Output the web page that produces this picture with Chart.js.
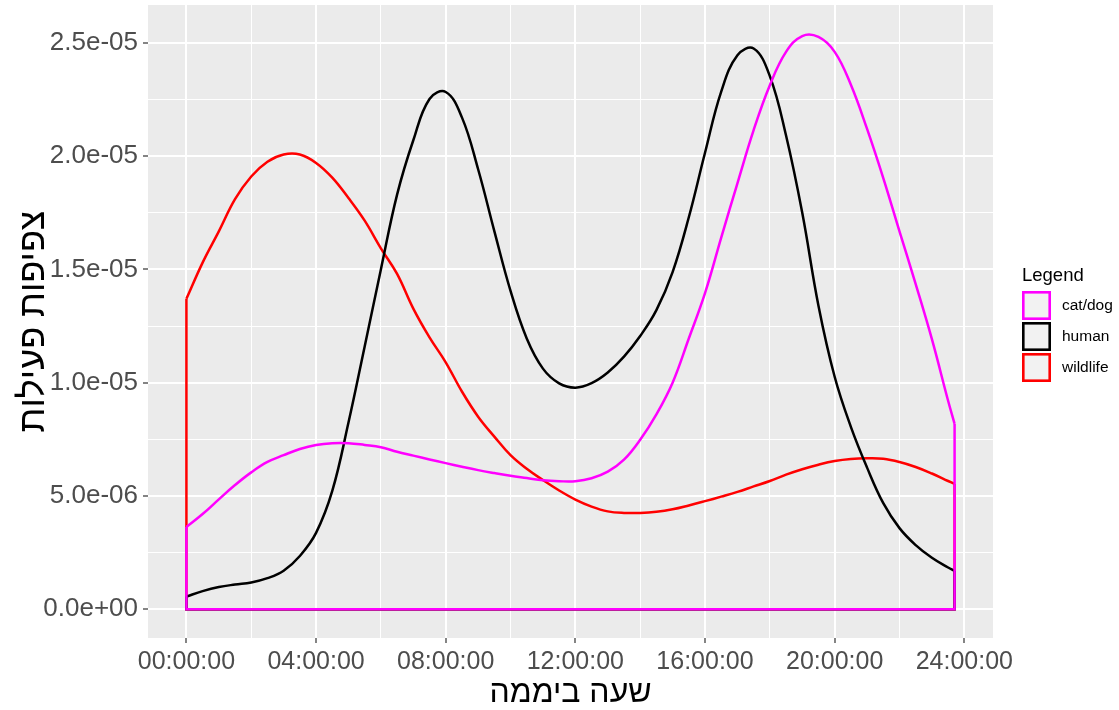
<!DOCTYPE html>
<html>
<head>
<meta charset="utf-8">
<title>צפיפות פעילות</title>
<script src="https://cdn.jsdelivr.net/npm/chart.js@4.4.0/dist/chart.umd.min.js"></script>
<style>
  html, body { margin: 0; padding: 0; background: #fff; }
  #wrap { width: 1119px; height: 710px; }
</style>
</head>
<body>
<div id="wrap"><canvas id="densityChart" width="1119" height="710"></canvas></div>
<script>
// hour of day (x) and density, in units of 1e-6
const hours = [0, 0.5, 1, 1.5, 2, 2.5, 3, 3.5, 4, 4.5, 5, 5.5, 6, 6.5, 7, 7.5, 8, 8.5, 9, 9.5,
  10, 10.5, 11, 11.5, 12, 12.5, 13, 13.5, 14, 14.5, 15, 15.5, 16, 16.5, 17, 17.5, 18, 18.5, 19, 19.5,
  20, 20.5, 21, 21.5, 22, 22.5, 23, 23.5, 23.7];

const catDog = [3.63, 4.2, 4.85, 5.48, 6.04, 6.5, 6.8, 7.07, 7.25, 7.33, 7.33, 7.25, 7.15, 6.95, 6.78, 6.61, 6.45, 6.29, 6.14, 6.01,
  5.89, 5.79, 5.69, 5.65, 5.65, 5.78, 6.07, 6.6, 7.48, 8.6, 10.0, 11.95, 13.95, 16.4, 18.8, 21.15, 23.13, 24.6, 25.3, 25.26,
  24.6, 23.15, 21.2, 19.03, 16.68, 14.35, 11.92, 9.2, 8.18];

const human = [0.56, 0.8, 0.98, 1.09, 1.18, 1.37, 1.7, 2.35, 3.37, 5.22, 8.24, 11.6, 15.0, 18.3, 20.7, 22.52, 22.83, 21.71, 19.42, 16.69,
  14.05, 11.95, 10.62, 9.97, 9.78, 9.98, 10.45, 11.15, 12.06, 13.2, 14.88, 17.3, 20.15, 22.85, 24.45, 24.75, 23.53, 20.91, 17.5, 13.4,
  10.26, 8.05, 6.25, 4.68, 3.58, 2.83, 2.27, 1.84, 1.69];

const wildlife = [13.7, 15.3, 16.68, 18.1, 19.1, 19.75, 20.07, 20.07, 19.7, 19.05, 18.15, 17.15, 15.93, 14.8, 13.27, 12.0, 10.9, 9.61, 8.5, 7.62,
  6.8, 6.2, 5.7, 5.24, 4.84, 4.53, 4.32, 4.25, 4.25, 4.3, 4.41, 4.58, 4.77, 4.97, 5.18, 5.42, 5.66, 5.94, 6.18, 6.38,
  6.54, 6.63, 6.66, 6.64, 6.5, 6.28, 5.99, 5.66, 5.53];

const seriesNames = ['cat/dog', 'human', 'wildlife'];
const seriesValues = [catDog, human, wildlife];
const seriesColors = ['#FF00FF', '#000000', '#FF0000'];

const xGridHours = [0, 2, 4, 6, 8, 10, 12, 14, 16, 18, 20, 22, 24];
const xTickHours = [0, 4, 8, 12, 16, 20, 24];
const xTickLabels = ['00:00:00', '04:00:00', '08:00:00', '12:00:00', '16:00:00', '20:00:00', '24:00:00'];

const yGridValues = [0, 2.5, 5, 7.5, 10, 12.5, 15, 17.5, 20, 22.5, 25];
const yTickValues = [0, 5, 10, 15, 20, 25];
const yTickLabels = ['0.0e+00', '5.0e-06', '1.0e-05', '1.5e-05', '2.0e-05', '2.5e-05'];

const FONT = '"Liberation Sans", Arial, Helvetica, sans-serif';
Chart.defaults.font.family = FONT;

// ggplot-like range: data range plus 5% each side
const xMin = -1.185, xMax = 24.885;
const yMin = -1.27, yMax = 26.67;

const datasets = [];
seriesNames.forEach((name, i) => {
  const vals = seriesValues[i];
  const last = hours.length - 1;
  datasets.push({
    label: name,
    data: hours.map((h, k) => ({ x: h, y: vals[k] })),
    borderColor: seriesColors[i],
    borderWidth: 2.5,
    pointRadius: 0,
    tension: 0.4,
    fill: false
  });
  // closed outline of the density polygon (sides + baseline)
  datasets.push({
    label: name + ' outline',
    data: [{ x: hours[0], y: vals[0] }, { x: hours[0], y: 0 }, { x: hours[last], y: 0 }, { x: hours[last], y: vals[last] }],
    borderColor: seriesColors[i],
    borderWidth: 2.5,
    pointRadius: 0,
    tension: 0,
    fill: false
  });
});

const panelBg = {
  id: 'panelBg',
  beforeDraw(chart) {
    const a = chart.chartArea, c = chart.ctx;
    c.save();
    c.fillStyle = '#EBEBEB';
    c.fillRect(a.left, a.top, a.right - a.left, a.bottom - a.top);
    c.restore();
  }
};

const ggLegend = {
  id: 'ggLegend',
  afterDraw(chart) {
    const c = chart.ctx;
    c.save();
    c.textAlign = 'left';
    c.textBaseline = 'middle';
    c.fillStyle = '#000';
    c.font = '18.5px ' + FONT;
    c.fillText('Legend', 1022, 276);
    seriesNames.forEach((name, i) => {
      const y = 291 + i * 31;
      c.fillStyle = '#F2F2F2';
      c.fillRect(1022, y, 29, 29);
      c.strokeStyle = seriesColors[i];
      c.lineWidth = 2.6;
      c.strokeRect(1023.3, y + 1.3, 26.4, 26.4);
      c.fillStyle = '#000';
      c.font = '15.5px ' + FONT;
      c.fillText(name, 1062, y + 15);
    });
    c.restore();
  }
};

new Chart(document.getElementById('densityChart'), {
  type: 'line',
  data: { datasets },
  options: {
    responsive: false,
    animation: false,
    devicePixelRatio: 1,
    layout: { padding: { top: 5, right: 126, left: 0, bottom: 0 } },
    plugins: { legend: { display: false }, tooltip: { enabled: false } },
    scales: {
      x: {
        type: 'linear',
        min: xMin,
        max: xMax,
        afterBuildTicks: s => { s.ticks = xGridHours.map(v => ({ value: v })); },
        afterFit: s => { s.height = 72; s.paddingLeft = 0; s.paddingRight = 0; },
        border: { display: false },
        grid: {
          color: '#FFFFFF',
          lineWidth: c => (c.tick && xTickHours.includes(c.tick.value)) ? 2 : 1,
          tickLength: 5,
          tickWidth: 1.2,
          tickColor: c => (c.tick && xTickHours.includes(c.tick.value)) ? '#333333' : 'rgba(0,0,0,0)'
        },
        ticks: {
          autoSkip: false,
          maxRotation: 0,
          padding: 4,
          color: '#4D4D4D',
          font: { size: 25 },
          callback: v => { const i = xTickHours.indexOf(v); return i < 0 ? '' : xTickLabels[i]; }
        },
        title: { display: true, text: 'שעה ביממה', color: '#000', font: { size: 32 }, padding: { top: 0, bottom: -2 } }
      },
      y: {
        type: 'linear',
        min: yMin,
        max: yMax,
        afterBuildTicks: s => { s.ticks = yGridValues.map(v => ({ value: v })); },
        afterFit: s => { s.width = 148; s.paddingTop = 0; s.paddingBottom = 0; },
        border: { display: false },
        grid: {
          color: '#FFFFFF',
          lineWidth: c => (c.tick && yTickValues.includes(c.tick.value)) ? 2 : 1,
          tickLength: 5,
          tickWidth: 1.2,
          tickColor: c => (c.tick && yTickValues.includes(c.tick.value)) ? '#333333' : 'rgba(0,0,0,0)'
        },
        ticks: {
          autoSkip: false,
          padding: 5,
          color: '#4D4D4D',
          font: { size: 26 },
          callback: v => { const i = yTickValues.indexOf(v); return i < 0 ? '' : yTickLabels[i]; }
        },
        title: { display: true, text: 'צפיפות פעילות', color: '#000', font: { size: 36 }, padding: { top: 12, bottom: 0 } }
      }
    }
  },
  plugins: [panelBg, ggLegend]
});
</script>
</body>
</html>
